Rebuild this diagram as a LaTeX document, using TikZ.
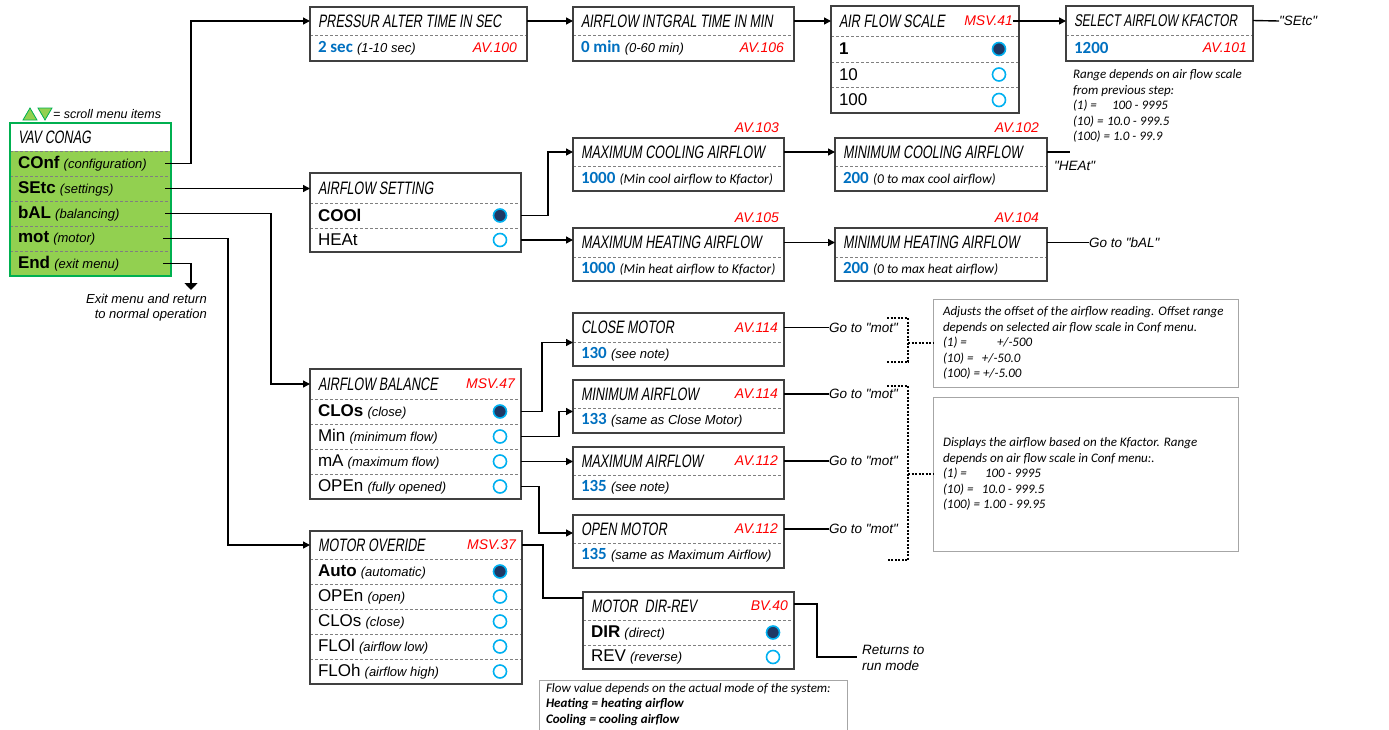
\documentclass[tikz,border=0pt]{standalone}
\usepackage{fontspec}
\setmainfont{Liberation Sans}[Ligatures=TeXOff]
\newfontfamily\calf{Carlito}[Ligatures=TeXOff]
\newfontfamily\lcdf{Liberation Sans}[FakeStretch=0.7,FakeSlant=0.15]
\usetikzlibrary{arrows.meta}
\definecolor{valblue}{HTML}{0070C0}
\definecolor{avred}{HTML}{FF0000}
\definecolor{menugreen}{HTML}{92D050}
\definecolor{menuborder}{HTML}{00B050}
\definecolor{dotblue}{HTML}{00B0F0}
\definecolor{dotfill}{HTML}{1F3864}
\definecolor{boxgray}{HTML}{404040}
\definecolor{divgray}{HTML}{808080}
\definecolor{notegray}{HTML}{A6A6A6}
\newcommand\hdr[1]{{\lcdf\fontsize{18}{18}\selectfont #1}}
\newcommand\hdrs[1]{{\lcdf\fontsize{17}{17}\selectfont #1}}
\newcommand\lblb[1]{{\fontsize{17}{17}\selectfont\bfseries #1}}
\newcommand\lblr[1]{{\fontsize{17}{17}\selectfont #1}}
\newcommand\paren[1]{{\fontsize{13}{13}\selectfont\itshape #1}}
\newcommand\cparen[1]{{\calf\fontsize{13.5}{13.5}\selectfont\itshape #1}}
\newcommand\val[1]{{\calf\fontsize{17}{17}\selectfont\bfseries\color{valblue}#1}}
\newcommand\av[1]{{\fontsize{14}{14}\selectfont\itshape\color{avred}#1}}
\newcommand\gotxt[1]{{\fontsize{13.5}{13.5}\selectfont\itshape #1}}
\tikzset{
 boxcell/.style={inner sep=0pt, outer sep=0pt, anchor=north west},
 boxframe/.style={draw=boxgray, line width=1.6pt, inner sep=0pt, outer sep=0pt, anchor=north west},
 notebox/.style={draw=notegray, line width=0.9pt, inner sep=0pt, outer sep=0pt, anchor=north west},
 txt/.style={inner sep=0pt, outer sep=0pt, anchor=west, font=\fontsize{15}{15}\selectfont},
 notetxt/.style={inner sep=0pt, outer sep=0pt, anchor=west, align=left, font=\calf\fontsize{13}{15.5}\selectfont\itshape},
 divl/.style={draw=divgray, line width=0.8pt, dash pattern=on 3pt off 2pt},
 conn/.style={draw=black, line width=1.4pt},
 arr/.style={conn, -{Triangle[width=7pt,length=7pt]}},
 arrbig/.style={conn, -{Triangle[width=13pt,length=7pt]}},
 dotl/.style={draw=black, line width=1.3pt, dash pattern=on 2pt off 1.5pt},
 dotsel/.style={circle, inner sep=0pt, minimum size=13pt, draw=dotblue, line width=1.6pt, fill=dotfill},
 dotopen/.style={circle, inner sep=0pt, minimum size=13pt, draw=dotblue, line width=1.6pt, fill=white},
}
\newcommand\hcell[5]{\node[boxcell, minimum width=#4pt, minimum height=#5pt] (#1) at (#2,#3) {};}
\newcommand\rcell[4]{\node[boxcell, minimum width=#3pt, minimum height=#4pt] (#1) at (#2.south west) {};\draw[divl] (#2.south west) -- (#2.south east);}
\newcommand\frm[5]{\node[boxframe, minimum width=#4pt, minimum height=#5pt] (#1) at (#2,#3) {};}
\newcommand\htxt[2]{\node[txt] (#1-t) at ([xshift=8pt]#1.west) {\hdr{#2}};}
\newcommand\ltxt[2]{\node[txt] (#1-t) at ([xshift=8pt]#1.west) {#2};}
\newcommand\rtxt[2]{\node[txt, anchor=east] (#1-av) at ([xshift=-6pt]#1.east) {\av{#2}};}
\newcommand\dsel[3]{\node[dotsel] (#1) at ([xshift=-#3pt]#2.east) {};}
\newcommand\dopn[3]{\node[dotopen] (#1) at ([xshift=-#3pt]#2.east) {};}
\begin{document}
\begin{tikzpicture}[x=1pt,y=-1pt]
\useasboundingbox (0,0) rectangle (1389,729);

% ---------------- legend
\draw[fill=menugreen, draw=menuborder, line width=0.8pt] (23,120) -- (30,108) -- (37,120) -- cycle;
\draw[fill=menugreen, draw=menuborder, line width=0.8pt] (38,108) -- (52,108) -- (45,120) -- cycle;
\node[txt] (legend) at (53,114) {{\fontsize{12.5}{12.5}\selectfont\itshape = scroll menu items}};

% ---------------- main menu
\node[boxcell, minimum width=161pt, minimum height=28pt] (mH) at (10,123) {};
\node[boxcell, fill=menugreen, minimum width=161pt, minimum height=25pt] (conf) at (mH.south west) {};
\node[boxcell, fill=menugreen, minimum width=161pt, minimum height=25pt] (setc) at (conf.south west) {};
\node[boxcell, fill=menugreen, minimum width=161pt, minimum height=25pt] (bal) at (setc.south west) {};
\node[boxcell, fill=menugreen, minimum width=161pt, minimum height=25pt] (motr) at (bal.south west) {};
\node[boxcell, fill=menugreen, minimum width=161pt, minimum height=25pt] (endr) at (motr.south west) {};
\foreach \nm in {mH,conf,setc,bal,motr} \draw[divl] (\nm.south west) -- (\nm.south east);
\node[boxframe, draw=menuborder, line width=1.4pt, minimum width=161pt, minimum height=153pt] (menu) at (10,123) {};
\htxt{mH}{VAV CONAG}
\ltxt{conf}{\lblb{COnf} \paren{(configuration)}}
\ltxt{setc}{\lblb{SEtc} \paren{(settings)}}
\ltxt{bal}{\lblb{bAL} \paren{(balancing)}}
\ltxt{motr}{\lblb{mot} \paren{(motor)}}
\ltxt{endr}{\lblb{End} \paren{(exit menu)}}
\coordinate (exitpt) at (191,290);
\node[inner sep=0pt, anchor=north east, align=right, font=\fontsize{13}{15}\selectfont\itshape] (exitt) at (207,294) {Exit menu and return\\to normal operation};

% ---------------- PRESSUR
\hcell{psH}{310}{7}{217}{28} \rcell{psR}{psH}{217}{26} \frm{ps}{310}{7}{217}{54}
\htxt{psH}{PRESSUR ALTER TIME IN SEC}
\ltxt{psR}{\val{2 sec} \paren{(1-10 sec)}}
\node[txt, anchor=east] (psR-av) at ([xshift=-10pt]psR.east) {\av{AV.100}};

% ---------------- AIRFLOW INTGRAL
\hcell{aiH}{573}{7}{221}{28} \rcell{aiR}{aiH}{221}{26} \frm{ai}{573}{7}{221}{54}
\htxt{aiH}{AIRFLOW INTGRAL TIME IN MIN}
\ltxt{aiR}{\val{0 min} \paren{(0-60 min)}}
\node[txt, anchor=east] (aiR-av) at ([xshift=-10pt]aiR.east) {\av{AV.106}};

% ---------------- AIR FLOW SCALE
\hcell{afsH}{831}{6}{188}{30} \rcell{afs1}{afsH}{188}{26} \rcell{afs2}{afs1}{188}{25} \rcell{afs3}{afs2}{188}{26}
\frm{afs}{831}{6}{188}{107}
\htxt{afsH}{AIR FLOW SCALE}
\rtxt{afsH}{MSV.41}
\ltxt{afs1}{\lblb{1}}
\ltxt{afs2}{\lblr{10}}
\ltxt{afs3}{\lblr{100}}
\dsel{afsd1}{afs1}{20} \dopn{afsd2}{afs2}{20} \dopn{afsd3}{afs3}{20}

% ---------------- SELECT AIRFLOW KFACTOR
\hcell{kfH}{1066}{6}{187}{29} \rcell{kfR}{kfH}{187}{26} \frm{kf}{1066}{6}{187}{55}
\node[txt] (kfH-t) at ([xshift=8pt]kfH.west) {\hdrs{SELECT AIRFLOW KFACTOR}};
\ltxt{kfR}{\val{1200}}
\rtxt{kfR}{AV.101}
\node[txt] (setcRef) at (1279,21) {\gotxt{"SEtc"}};
\node[notetxt] (kfnote) at (1073,106) {Range depends on air flow scale\\from previous step:\\\makebox[39pt][l]{(1) =}100 - 9995\\\makebox[34pt][l]{(10) =}10.0 - 999.5\\(100) = 1.0 - 99.9};

% ---------------- AIRFLOW SETTING
\hcell{asH}{310}{173}{211}{30} \rcell{as1}{asH}{211}{25} \rcell{as2}{as1}{211}{24} \frm{as}{310}{173}{211}{79}
\htxt{asH}{AIRFLOW SETTING}
\ltxt{as1}{\lblb{COOl}}
\ltxt{as2}{\lblr{HEAt}}
\dsel{asd1}{as1}{21} \dopn{asd2}{as2}{21}

% ---------------- MAX / MIN cooling / heating
\hcell{mxcH}{573}{138}{211}{28} \rcell{mxcR}{mxcH}{211}{25} \frm{mxc}{573}{138}{211}{53}
\htxt{mxcH}{MAXIMUM COOLING AIRFLOW}
\ltxt{mxcR}{\val{1000} \cparen{(Min cool airflow to Kfactor)}}
\node[txt, anchor=east] (av103) at ([xshift=-5pt,yshift=10pt]mxc.north east) {\av{AV.103}};

\hcell{mxhH}{573}{228}{211}{29} \rcell{mxhR}{mxhH}{211}{24} \frm{mxh}{573}{228}{211}{53}
\htxt{mxhH}{MAXIMUM HEATING AIRFLOW}
\ltxt{mxhR}{\val{1000} \cparen{(Min heat airflow to Kfactor)}}
\node[txt, anchor=east] (av105) at ([xshift=-5pt,yshift=10pt]mxh.north east) {\av{AV.105}};

\hcell{mncH}{835}{138}{212}{28} \rcell{mncR}{mncH}{212}{25} \frm{mnc}{835}{138}{212}{53}
\htxt{mncH}{MINIMUM COOLING AIRFLOW}
\ltxt{mncR}{\val{200} \cparen{(0 to max cool airflow)}}
\node[txt, anchor=east] (av102) at ([xshift=-8pt,yshift=10pt]mnc.north east) {\av{AV.102}};

\hcell{mnhH}{835}{228}{212}{29} \rcell{mnhR}{mnhH}{212}{24} \frm{mnh}{835}{228}{212}{53}
\htxt{mnhH}{MINIMUM HEATING AIRFLOW}
\ltxt{mnhR}{\val{200} \cparen{(0 to max heat airflow)}}
\node[txt, anchor=east] (av104) at ([xshift=-8pt,yshift=10pt]mnh.north east) {\av{AV.104}};

\coordinate (heatEnd) at (1070,152);
\node[txt] (heatRef) at (1054,166) {\gotxt{"HEAt"}};
\node[txt] (balRef) at (1089,243) {\gotxt{Go to "bAL"}};

% ---------------- AIRFLOW BALANCE
\hcell{abH}{310}{369}{211}{30} \rcell{ab1}{abH}{211}{25} \rcell{ab2}{ab1}{211}{25} \rcell{ab3}{ab2}{211}{25} \rcell{ab4}{ab3}{211}{25}
\frm{ab}{310}{369}{211}{130}
\htxt{abH}{AIRFLOW BALANCE}
\rtxt{abH}{MSV.47}
\ltxt{ab1}{\lblb{CLOs} \paren{(close)}}
\ltxt{ab2}{\lblr{Min} \paren{(minimum flow)}}
\ltxt{ab3}{\lblr{mA} \paren{(maximum flow)}}
\ltxt{ab4}{\lblr{OPEn} \paren{(fully opened)}}
\dsel{abd1}{ab1}{21} \dopn{abd2}{ab2}{21} \dopn{abd3}{ab3}{21} \dopn{abd4}{ab4}{21}

% ---------------- MOTOR OVERIDE
\hcell{moH}{310}{531}{212}{28} \rcell{mo1}{moH}{212}{25} \rcell{mo2}{mo1}{212}{25} \rcell{mo3}{mo2}{212}{25} \rcell{mo4}{mo3}{212}{25} \rcell{mo5}{mo4}{212}{25}
\frm{mo}{310}{531}{212}{153}
\htxt{moH}{MOTOR OVERIDE}
\rtxt{moH}{MSV.37}
\ltxt{mo1}{\lblb{Auto} \paren{(automatic)}}
\ltxt{mo2}{\lblr{OPEn} \paren{(open)}}
\ltxt{mo3}{\lblr{CLOs} \paren{(close)}}
\ltxt{mo4}{\lblr{FLOl} \paren{(airflow low)}}
\ltxt{mo5}{\lblr{FLOh} \paren{(airflow high)}}
\dsel{mod1}{mo1}{22} \dopn{mod2}{mo2}{22} \dopn{mod3}{mo3}{22} \dopn{mod4}{mo4}{22} \dopn{mod5}{mo5}{22}

% ---------------- balance targets
\hcell{cmH}{573}{313}{211}{29} \rcell{cmR}{cmH}{211}{24} \frm{cm}{573}{313}{211}{53}
\htxt{cmH}{CLOSE MOTOR} \rtxt{cmH}{AV.114}
\ltxt{cmR}{\val{130} \paren{(see note)}}

\hcell{mnaH}{573}{380}{211}{28} \rcell{mnaR}{mnaH}{211}{25} \frm{mna}{573}{380}{211}{53}
\htxt{mnaH}{MINIMUM AIRFLOW} \rtxt{mnaH}{AV.114}
\ltxt{mnaR}{\val{133} \paren{(same as Close Motor)}}

\hcell{mxaH}{573}{447}{211}{28} \rcell{mxaR}{mxaH}{211}{24} \frm{mxa}{573}{447}{211}{52}
\htxt{mxaH}{MAXIMUM AIRFLOW} \rtxt{mxaH}{AV.112}
\ltxt{mxaR}{\val{135} \paren{(see note)}}

\hcell{omH}{573}{515}{211}{28} \rcell{omR}{omH}{211}{25} \frm{om}{573}{515}{211}{53}
\htxt{omH}{OPEN MOTOR} \rtxt{omH}{AV.112}
\ltxt{omR}{\val{135} \paren{(same as Maximum Airflow)}}

\foreach \nm/\k in {cmH/1,mnaH/2,mxaH/3,omH/4}{
  \node[txt] (goto\k) at ([xshift=45pt]\nm.east) {\gotxt{Go to "mot"}};
  \draw[conn] (\nm.east) -- (goto\k.west);
}

% ---------------- MOTOR DIR-REV
\hcell{drH}{583}{592}{211}{28} \rcell{dr1}{drH}{211}{25} \rcell{dr2}{dr1}{211}{24} \frm{dr}{583}{592}{211}{77}
\htxt{drH}{MOTOR\ \ DIR-REV} \rtxt{drH}{BV.40}
\ltxt{dr1}{\lblb{DIR} \paren{(direct)}}
\ltxt{dr2}{\lblr{REV} \paren{(reverse)}}
\dsel{drd1}{dr1}{21} \dopn{drd2}{dr2}{21}
\coordinate (retEnd) at (857,657);
\node[inner sep=0pt, anchor=west, align=left, font=\fontsize{13.5}{16}\selectfont\itshape] (ret) at (862,658) {Returns to\\run mode};

% ---------------- notes
\node[notebox, minimum width=305pt, minimum height=88pt] (n1) at (933,299) {};
\node[notetxt] (n1t) at ([xshift=10pt]n1.west) {Adjusts the offset of the airflow reading. Offset range\\depends on selected air flow scale in Conf menu.\\\makebox[54pt][l]{(1) =}+/-500\\\makebox[39pt][l]{(10) =}+/-50.0\\(100) = +/-5.00};
\node[notebox, minimum width=305pt, minimum height=154pt] (n2) at (933,397) {};
\node[notetxt] (n2t) at ([xshift=10pt]n2.west) {Displays the airflow based on the Kfactor. Range\\depends on air flow scale in Conf menu:.\\\makebox[42pt][l]{(1) =}100 - 9995\\\makebox[39pt][l]{(10) =}10.0 - 999.5\\(100) = 1.00 - 99.95};
\node[notebox, minimum width=308pt, minimum height=70pt] (n3) at (539,680) {};
\node[notetxt, anchor=north west] (n3t) at (546,683) {Flow value depends on the actual mode of the system:\\\textbf{Heating = heating airflow}\\\textbf{Cooling = cooling airflow}};

% ---------------- connectors
\draw[arr] ([xshift=-6pt]conf.east) -- ++(26,0) |- (psH.west);
\draw[arr] ([xshift=-6pt]setc.east) -- (setc.east -| asH.west);
\draw[arr] ([xshift=-6pt]bal.east) -- ++(106,0) |- (abH.west);
\draw[arr] ([xshift=-8pt]motr.east) -- ++(65,0) |- (moH.west);
\draw[arrbig] ([xshift=-8pt]endr.east) -| (exitpt);

\draw[arr] (psH.east) -- (psH.east -| aiH.west);
\draw[arr] (aiH.east) -- (aiH.east -| afsH.west);
\draw[arr] (afsH-av.east) -- (afsH-av.east -| kfH.west);
\draw[conn] (kfH.east) -- (setcRef.west);

\draw[arr] (as1.east) -- ++(27,0) |- (mxcH.west);
\draw[arr] (as2.east) -- (as2.east -| mxhH.west);
\draw[arr] (mxcH.east) -- (mncH.west);
\draw[arr] (mxhH.east) -- (mnhH.west);
\draw[conn] (mncH.east) -- (heatEnd);
\draw[conn] (mnhH.east) -- (mnhH.east -| balRef.west);

\draw[arr] (ab1.east) -- ++(21,0) |- ([yshift=-3pt]cm.west);
\draw[arr] (ab2.east) -- ++(38,0) |- ([yshift=-5pt]mna.west);
\draw[arr] (ab3.east) -- (ab3.east -| mxa.west);
\draw[arr] (ab4.east) -- ++(18,0) |- ([yshift=-4pt]omH.west);

\draw[conn] (moH.east) -- ++(21,0) |- ([yshift=8pt]drH.west);
\draw[conn] ([yshift=2pt]drH.east) -- ++(23,0) |- (retEnd);

\draw[dotl] (887,318) -- (908,318) -- (908,362) -- (887,362);
\draw[dotl] (908,343) -- (n1.west);
\draw[dotl] (887,386) -- (908,386) -- (908,560) -- (887,560);
\draw[dotl] (908,474) -- (n2.west);
\end{tikzpicture}
\end{document}
